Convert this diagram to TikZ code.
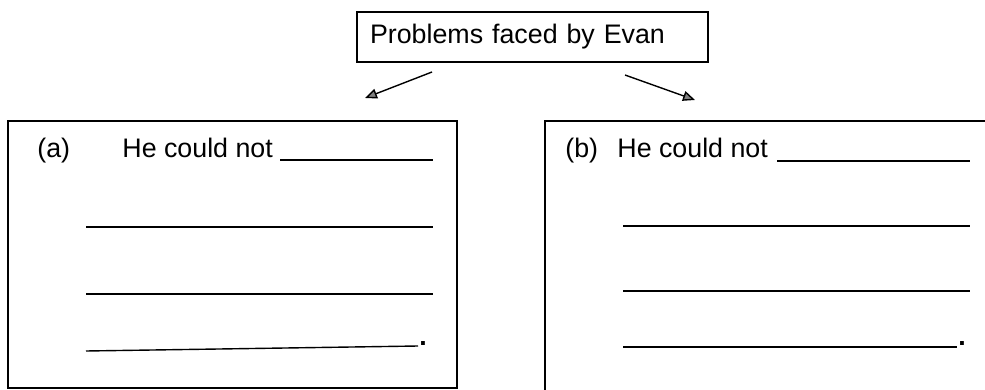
\documentclass[tikz,border=0pt]{standalone}
\usepackage{fontspec}
\setmainfont{Liberation Sans}
\usepackage{tikz}
\usetikzlibrary{arrows.meta}
\tikzset{
    titlebox/.style={draw, line width=0.8pt, minimum width=175.5pt, minimum height=25pt,
        inner xsep=6.5pt, text width=162.5pt, align=left},
    answerbox/.style={draw, line width=0.8pt, inner sep=0pt},
    pointer/.style={line width=0.7pt, -{Triangle[length=6pt,width=5pt,fill=gray]}},
    blank/.style={line width=0.7pt},
    qtext/.style={anchor=base west, inner sep=0pt}
}

\begin{document}
\begin{tikzpicture}[x=0.5pt,y=-0.5pt,font=\fontsize{13.4pt}{16pt}\selectfont]
		\useasboundingbox (0,0) rectangle (985,390);

		%title
		\node[titlebox] (title) at (532.5,37) {Problems faced by Evan};

		%boxes
		\node[answerbox, minimum width=224.5pt, minimum height=133.5pt] (boxa) at (232.5,254.5) {};
		\node[answerbox, minimum width=227.5pt, minimum height=138.5pt] (boxb) at (772.5,259.5) {};

		% arrows
		\coordinate (tailA) at (432,72);
		\coordinate (headA) at (365,98);
		\coordinate (tailB) at (625,75);
		\coordinate (headB) at (695,100);
		\draw[pointer] (tailA) -- (headA);
		\draw[pointer] (tailB) -- (headB);

		% (a)
		\node[qtext] (labA) at (37,157) {(a)};
		\node[qtext] (stemA) at (122,157) {He could not};
		\draw[blank] (280,160) -- (433,160);
		\draw[blank] (86,227) -- (433,227);
		\draw[blank] (86,294) -- (433,294);
		\draw[blank] (86,351) -- (418,346);
		\node[qtext] (stopA) at (419,345) {\textbf{.}};

		% (b)
		\node[qtext] (labB) at (565,157) {(b)};
		\node[qtext] (stemB) at (617,157) {He could not};
		\draw[blank] (777,161) -- (970,161);
		\draw[blank] (623,226) -- (970,226);
		\draw[blank] (623,291) -- (970,291);
		\draw[blank] (623,347) -- (957,347);
		\node[qtext] (stopB) at (958,345) {\textbf{.}};

	\end{tikzpicture}
\end{document}
